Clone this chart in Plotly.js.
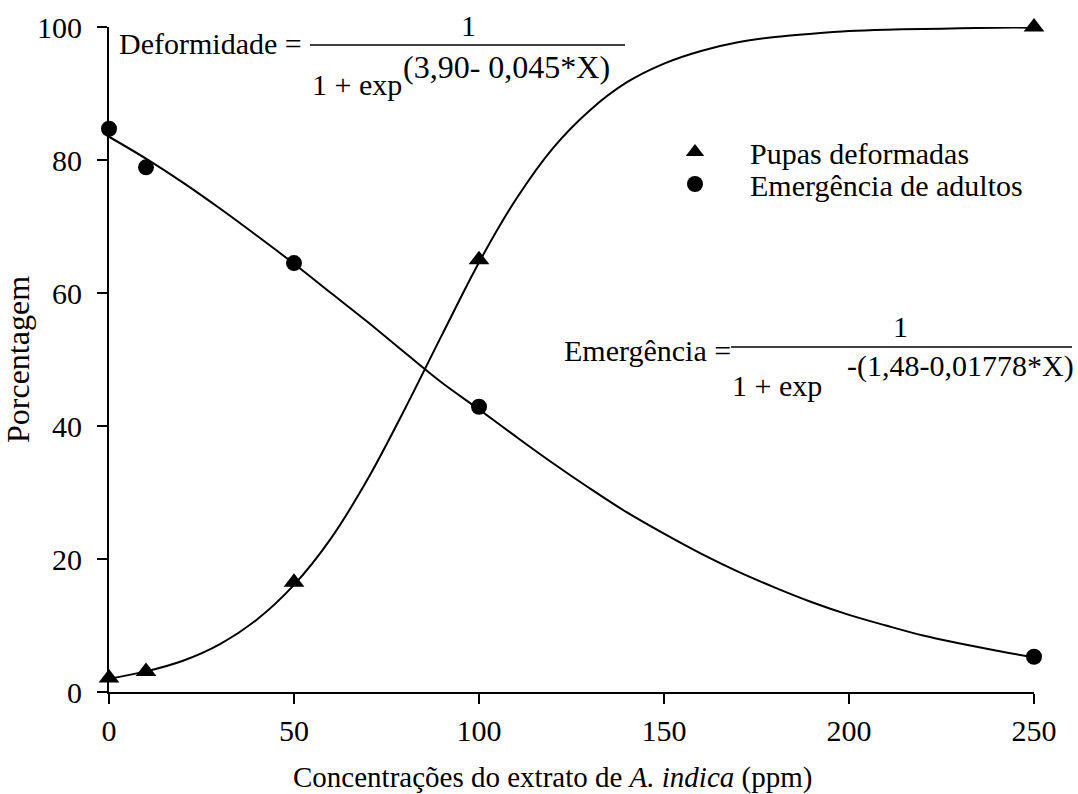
<!DOCTYPE html>
<html>
<head>
<meta charset="utf-8">
<script src="https://cdn.plot.ly/plotly-3.0.1.min.js"></script>
<style>body{margin:0;background:#fff}#chart{width:1078px;height:794px}</style>
</head>
<body>
<div id="chart"></div>
<script>
// Observed data points
const concX = [0, 10, 50, 100, 250];
const pupasDeformadas = [2.1, 3.1, 16.5, 65.0, 100.0];
const emergenciaAdultos = [84.7, 78.9, 64.5, 42.9, 5.3];

// Fitted curves
const curveX = [0,10,20,30,40,50,60,70,80,90,100,110,120,130,140,150,160,170,180,190,200,210,220,230,240,250];
const curveDeform = [2.0,3.1,4.7,7.2,10.9,16.1,23.1,32.1,42.6,53.7,64.6,74.1,81.8,87.5,91.7,94.5,96.4,97.7,98.5,99.0,99.4,99.6,99.7,99.8,99.9,99.9];
const curveEmerg = [83.5,80.2,76.6,72.7,68.6,64.4,60.0,55.6,51.0,46.5,42.5,38.4,34.4,30.6,27.0,23.8,20.8,18.1,15.7,13.5,11.6,10.0,8.5,7.3,6.2,5.2];

const xTicks = [0, 50, 100, 150, 200, 250];
const yTicks = [0, 20, 40, 60, 80, 100];

const FONT = "Liberation Serif";
const W = 1078, H = 794;
const L = 109, R = 1034, T = 27, B = 692;
const px = v => (v - L) / (R - L);
const py = v => (B - v) / (B - T);

const traces = [
  {x: curveX, y: curveDeform, mode: 'lines', line: {color: '#000', width: 2, shape: 'spline'}, showlegend: false, hoverinfo: 'skip'},
  {x: curveX, y: curveEmerg, mode: 'lines', line: {color: '#000', width: 2, shape: 'spline'}, showlegend: false, hoverinfo: 'skip'},
  {x: concX, y: pupasDeformadas, mode: 'markers', name: 'Pupas deformadas',
   marker: {symbol: 'triangle-up', size: 18, color: '#000'}, cliponaxis: false, legend: 'legend'},
  {x: concX, y: emergenciaAdultos, mode: 'markers', name: 'Emergência de adultos',
   marker: {symbol: 'circle', size: 16, color: '#000'}, cliponaxis: false, legend: 'legend2'}
];

const txt = (text, x, y, xanchor, size) => ({
  text: text, xref: 'paper', yref: 'paper', x: px(x), y: py(y),
  xanchor: xanchor, yanchor: 'middle', showarrow: false,
  font: {family: FONT, size: size || 30, color: '#000'}
});

const annotations = [
  txt('Deformidade =', 117, 43, 'left'),
  txt('1', 468, 26, 'center'),
  txt('1 + exp', 310, 84, 'left'),
  txt('(3,90- 0,045*X)', 401, 67, 'left', 32),
  txt('Emergência =', 562, 350, 'left'),
  txt('1', 900, 326, 'center'),
  txt('1 + exp', 730, 385, 'left'),
  txt('-(1,48-0,01778*X)', 845, 366, 'left'),
  txt('Concentrações do extrato de <i>A. indica</i> (ppm)', 552, 777, 'center', 29)
];

const shapes = [
  {type: 'line', xref: 'paper', yref: 'paper', x0: px(310), x1: px(625), y0: py(45), y1: py(45), line: {color: '#000', width: 1.5}},
  {type: 'line', xref: 'paper', yref: 'paper', x0: px(731), x1: px(1072), y0: py(347), y1: py(347), line: {color: '#000', width: 1.5}}
];

const legendStyle = (y) => ({
  x: px(640), y: py(y), xanchor: 'left', yanchor: 'middle',
  bgcolor: 'rgba(0,0,0,0)', borderwidth: 0, itemwidth: 100,
  font: {family: FONT, size: 30, color: '#000'}
});

const layout = {
  width: W, height: H,
  margin: {l: L, r: W - R, t: T, b: H - B, pad: 0},
  paper_bgcolor: '#fff', plot_bgcolor: '#fff',
  font: {family: FONT, size: 30, color: '#000'},
  xaxis: {
    range: [0, 250], tickvals: xTicks, ticktext: xTicks.map(String),
    showgrid: false, zeroline: false, showline: true, linecolor: '#000', linewidth: 2,
    ticks: 'outside', ticklen: 10, tickwidth: 2, tickcolor: '#000',
    ticklabelstandoff: 1, tickfont: {family: FONT, size: 30, color: '#000'}
  },
  yaxis: {
    range: [0, 100], tickvals: yTicks, ticktext: yTicks.map(String),
    showgrid: false, zeroline: false, showline: true, linecolor: '#000', linewidth: 2,
    ticks: 'outside', ticklen: 10, tickwidth: 2, tickcolor: '#000',
    ticklabelstandoff: 9, tickfont: {family: FONT, size: 30, color: '#000'},
    title: {text: 'Porcentagem', font: {family: FONT, size: 32, color: '#000'}, standoff: 4}
  },
  legend: legendStyle(152),
  legend2: legendStyle(184),
  annotations: annotations,
  shapes: shapes
};

Plotly.newPlot('chart', traces, layout, {staticPlot: true});
</script>
</body>
</html>
